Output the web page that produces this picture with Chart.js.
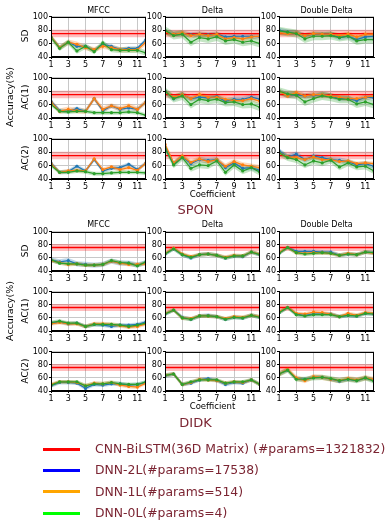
<!DOCTYPE html>
<html><head><meta charset="utf-8">
<script src="https://cdn.jsdelivr.net/npm/chart.js@4.4.1/dist/chart.umd.min.js"></script>
<style>
html,body{margin:0;padding:0;background:#fff;}
body{width:388px;height:523px;position:relative;overflow:hidden;font-family:"DejaVu Sans",sans-serif;}
canvas{position:absolute;}
.t{position:absolute;white-space:nowrap;color:#000;line-height:1;}
.rot{transform:translate(-50%,-50%) rotate(-90deg);}
.ctr{transform:translate(-50%,-50%);}
.lg{position:absolute;height:3px;width:37px;left:43px;}
.lt{position:absolute;left:95px;font-size:12.4px;color:#7b2432;white-space:nowrap;transform:translateY(-50%);line-height:1;}
</style></head><body>
<script>
// ---------- DATA ----------
const coeffs = [1,2,3,4,5,6,7,8,9,10,11,12];
const xTicks = [1,3,5,7,9,11];
const yTicks = [40,60,80,100];
const groups = ['SPON','DIDK'];
const features = ['MFCC','Delta','Double Delta'];
const metrics = ['SD','AC(1)','AC(2)'];
const seriesNames = ['CNN-BiLSTM(36D Matrix) (#params=1321832)','DNN-2L(#params=17538)','DNN-1L(#params=514)','DNN-0L(#params=4)'];
const cnnMean = {SPON:75, DIDK:76};
const cnnStd = {SPON:5.5, DIDK:5.5};

// SPON
const SPON_MFCC_SD_2L  = [70,54,62,56,56,50,59,56,51,53,53,66];
const SPON_MFCC_SD_1L  = [70,54,62,59,54,51,56,54,51,51,51,62];
const SPON_MFCC_SD_0L  = [69,53,62,49,56,48,61,51,50,50,50,46];
const SPON_DELTA_SD_2L = [78,74,75,73,74,73,74,70,71,71,71,70];
const SPON_DELTA_SD_1L = [77,74,76,72,74,72,74,67,69,67,70,71];
const SPON_DELTA_SD_0L = [80,72,74,62,69,67,70,64,66,62,64,60];
const SPON_DD_SD_2L    = [80,77,76,72,74,74,74,69,71,66,70,71];
const SPON_DD_SD_1L    = [76,75,76,72,75,74,74,72,74,70,74,74];
const SPON_DD_SD_0L    = [79,77,75,67,71,71,72,69,71,64,66,66];

const SPON_MFCC_AC1_2L  = [65,51,50,54,50,69,51,58,53,55,53,64];
const SPON_MFCC_AC1_1L  = [64,50,53,51,50,69,53,58,54,58,53,64];
const SPON_MFCC_AC1_0L  = [60,50,49,50,50,48,48,48,48,49,48,44];
const SPON_DELTA_AC1_2L = [80,69,75,69,71,70,72,65,68,68,71,68];
const SPON_DELTA_AC1_1L = [79,71,75,69,75,71,71,68,66,66,69,65];
const SPON_DELTA_AC1_0L = [80,69,73,60,68,66,68,63,64,60,61,56];
const SPON_DD_AC1_2L    = [80,74,75,73,74,75,73,69,69,66,71,70];
const SPON_DD_AC1_1L    = [80,73,78,73,75,75,73,71,69,69,71,73];
const SPON_DD_AC1_0L    = [80,76,74,64,69,73,71,68,68,61,64,60];

const SPON_MFCC_AC2_2L  = [64,50,51,59,52,69,52,56,57,62,54,64];
const SPON_MFCC_AC2_1L  = [63,50,52,53,52,70,54,58,54,57,53,64];
const SPON_MFCC_AC2_0L  = [60,50,50,52,51,48,48,49,50,50,50,49];
const SPON_DELTA_AC2_2L = [88,63,73,63,69,68,69,57,64,56,57,53];
const SPON_DELTA_AC2_1L = [92,64,74,65,70,66,69,59,66,61,59,57];
const SPON_DELTA_AC2_0L = [86,61,72,56,61,60,67,50,61,52,57,50];
const SPON_DD_AC2_2L    = [82,73,77,69,74,72,69,68,66,61,63,59];
const SPON_DD_AC2_1L    = [79,73,72,69,73,69,69,66,67,63,64,63];
const SPON_DD_AC2_0L    = [79,72,69,61,67,64,68,58,64,58,59,52];

// DIDK
const DIDK_MFCC_SD_2L  = [57,54,56,51,50,49,50,55,52,52,49,53];
const DIDK_MFCC_SD_1L  = [56,53,50,51,49,49,50,55,52,50,50,51];
const DIDK_MFCC_SD_0L  = [57,52,51,51,49,49,50,56,53,52,48,54];
const DIDK_DELTA_SD_2L = [66,74,65,60,65,66,64,60,63,62,69,65];
const DIDK_DELTA_SD_1L = [67,75,66,62,65,66,64,61,64,63,69,66];
const DIDK_DELTA_SD_0L = [66,74,65,61,65,66,64,60,63,63,69,65];
const DIDK_DD_SD_2L    = [67,76,70,70,70,69,69,64,66,65,69,68];
const DIDK_DD_SD_1L    = [68,76,68,67,68,68,67,64,67,65,69,67];
const DIDK_DD_SD_0L    = [67,76,68,66,67,68,67,64,66,65,69,68];

const DIDK_MFCC_AC1_2L  = [52,54,51,52,47,50,49,47,49,49,50,54];
const DIDK_MFCC_AC1_1L  = [51,53,51,51,47,51,51,50,48,46,47,51];
const DIDK_MFCC_AC1_0L  = [53,55,52,52,47,50,50,50,49,47,49,52];
const DIDK_DELTA_AC1_2L = [66,72,61,58,63,64,62,58,61,60,64,61];
const DIDK_DELTA_AC1_1L = [67,72,60,59,63,63,62,59,62,61,64,62];
const DIDK_DELTA_AC1_0L = [66,72,60,58,63,63,62,58,61,60,64,61];
const DIDK_DD_AC1_2L    = [68,76,66,64,66,66,66,62,64,63,67,66];
const DIDK_DD_AC1_1L    = [69,76,67,66,69,68,66,62,67,64,68,67];
const DIDK_DD_AC1_0L    = [68,76,65,63,65,65,65,62,64,63,67,66];

const DIDK_MFCC_AC2_2L  = [48,53,53,52,44,50,49,51,51,49,50,53];
const DIDK_MFCC_AC2_1L  = [50,54,54,53,48,52,51,53,49,47,46,52];
const DIDK_MFCC_AC2_0L  = [49,54,54,54,48,51,51,53,51,50,50,54];
const DIDK_DELTA_AC2_2L = [63,66,50,52,57,59,56,50,53,52,57,50];
const DIDK_DELTA_AC2_1L = [64,66,50,53,58,57,56,52,54,53,57,50];
const DIDK_DELTA_AC2_0L = [64,66,50,54,57,57,57,52,54,54,57,50];
const DIDK_DD_AC2_2L    = [66,72,59,58,61,61,58,55,58,56,60,56];
const DIDK_DD_AC2_1L    = [66,73,60,56,62,61,58,56,59,57,60,58];
const DIDK_DD_AC2_0L    = [66,72,58,58,60,61,59,56,58,56,60,55];

// shaded band half-widths per panel (row-major: SD, AC1, AC2 x MFCC, Delta, DD)
const SPON_BAND_2L = [3,4,4, 3,4,4, 3,4,4];
const SPON_BAND_1L = [4,4,4, 4,4,4, 3,4,3];
const SPON_BAND_0L = [4,6,6, 3,6,6, 3,5,5];
const DIDK_BAND_2L = [4,3,3, 3,3,3, 3,3,3];
const DIDK_BAND_1L = [3,3,3, 3,3,3, 3,3,4];
const DIDK_BAND_0L = [3,3,3, 3,3,3, 3,3,4];

// ---------- lookup built from arrays ----------
const table = {
  SPON: [
    [[SPON_MFCC_SD_2L,SPON_MFCC_SD_1L,SPON_MFCC_SD_0L],[SPON_DELTA_SD_2L,SPON_DELTA_SD_1L,SPON_DELTA_SD_0L],[SPON_DD_SD_2L,SPON_DD_SD_1L,SPON_DD_SD_0L]],
    [[SPON_MFCC_AC1_2L,SPON_MFCC_AC1_1L,SPON_MFCC_AC1_0L],[SPON_DELTA_AC1_2L,SPON_DELTA_AC1_1L,SPON_DELTA_AC1_0L],[SPON_DD_AC1_2L,SPON_DD_AC1_1L,SPON_DD_AC1_0L]],
    [[SPON_MFCC_AC2_2L,SPON_MFCC_AC2_1L,SPON_MFCC_AC2_0L],[SPON_DELTA_AC2_2L,SPON_DELTA_AC2_1L,SPON_DELTA_AC2_0L],[SPON_DD_AC2_2L,SPON_DD_AC2_1L,SPON_DD_AC2_0L]]
  ],
  DIDK: [
    [[DIDK_MFCC_SD_2L,DIDK_MFCC_SD_1L,DIDK_MFCC_SD_0L],[DIDK_DELTA_SD_2L,DIDK_DELTA_SD_1L,DIDK_DELTA_SD_0L],[DIDK_DD_SD_2L,DIDK_DD_SD_1L,DIDK_DD_SD_0L]],
    [[DIDK_MFCC_AC1_2L,DIDK_MFCC_AC1_1L,DIDK_MFCC_AC1_0L],[DIDK_DELTA_AC1_2L,DIDK_DELTA_AC1_1L,DIDK_DELTA_AC1_0L],[DIDK_DD_AC1_2L,DIDK_DD_AC1_1L,DIDK_DD_AC1_0L]],
    [[DIDK_MFCC_AC2_2L,DIDK_MFCC_AC2_1L,DIDK_MFCC_AC2_0L],[DIDK_DELTA_AC2_2L,DIDK_DELTA_AC2_1L,DIDK_DELTA_AC2_0L],[DIDK_DD_AC2_2L,DIDK_DD_AC2_1L,DIDK_DD_AC2_0L]]
  ]
};
const bands = {SPON:[SPON_BAND_2L,SPON_BAND_1L,SPON_BAND_0L], DIDK:[DIDK_BAND_2L,DIDK_BAND_1L,DIDK_BAND_0L]};

// ---------- STYLE / LAYOUT ----------
const FONT = '"DejaVu Sans", sans-serif';
const LINE_COLORS = ['#1f77b4','#ff7f0e','#2ca02c'];
const BAND_COLORS = ['rgba(31,119,180,0.28)','rgba(255,127,14,0.28)','rgba(44,160,44,0.28)'];
const RED = '#ff0000', RED_BAND = 'rgba(255,0,0,0.25)';
const COL_X = [51,165,279], PLOT_W = 95;
const ROW_Y = {SPON:[16,76.5,137.5], DIDK:[230.7,290.7,350.7]};
const PLOT_H = {SPON:40.5, DIDK:40};
const YW = 30, XH = 16, PT = 5, PR = 5;

const frame = {id:'frame', afterDatasetsDraw(ch){
  const a = ch.chartArea, ctx = ch.ctx;
  ctx.save(); ctx.strokeStyle='#000'; ctx.lineWidth=1;
  const l=Math.round(a.left)+0.5, t=Math.round(a.top)+0.5, r=Math.round(a.right)-0.5, b=Math.round(a.bottom)-0.5;
  ctx.strokeRect(l,t,r-l,b-t); ctx.restore();
}};

function pts(vals){ return coeffs.map((c,i)=>({x:c,y:vals[i]})); }
function pts2(v){ return [{x:coeffs[0],y:v},{x:coeffs[coeffs.length-1],y:v}]; }

function addText(txt, x, y, size, cls, color){
  const d=document.createElement('div'); d.className='t '+cls; d.textContent=txt;
  d.style.left=x+'px'; d.style.top=y+'px'; d.style.fontSize=size+'px'; if(color) d.style.color=color;
  document.body.appendChild(d);
}

groups.forEach(g=>{
  metrics.forEach((m,r)=>{
    features.forEach((f,c)=>{
      const series = table[g][r][c];
      const pi = r*3+c;
      const h = PLOT_H[g];
      const cv = document.createElement('canvas');
      const W = PLOT_W + YW + PR, H = h + PT + XH;
      cv.width = Math.round(W); cv.height = Math.round(H);
      cv.style.left = (COL_X[c]-YW)+'px'; cv.style.top = (ROW_Y[g][r]-PT)+'px';
      document.body.appendChild(cv);
      const ds = [];
      const bandOrder=[12,11,10];
      ds.push({data:pts2(cnnMean[g]+cnnStd[g]), fill:'+1', backgroundColor:RED_BAND, borderWidth:0, pointRadius:0, order:13});
      ds.push({data:pts2(cnnMean[g]-cnnStd[g]), fill:false, borderWidth:0, pointRadius:0, order:13});
      series.forEach((vals,k)=>{
        const bw = bands[g][k][pi];
        ds.push({data:pts(vals.map(v=>v+bw)), fill:'+1', backgroundColor:BAND_COLORS[k], borderWidth:0, pointRadius:0, order:bandOrder[k]});
        ds.push({data:pts(vals.map(v=>v-bw)), fill:false, borderWidth:0, pointRadius:0, order:bandOrder[k]});
      });
      ds.push({label:seriesNames[0], data:pts2(cnnMean[g]), borderColor:RED, borderWidth:1.3, pointRadius:0, fill:false, order:3});
      series.forEach((vals,k)=>{
        ds.push({label:seriesNames[k+1], data:pts(vals), borderColor:LINE_COLORS[k], backgroundColor:LINE_COLORS[k],
          borderWidth:1.2, pointRadius:1.6, pointBorderWidth:0, pointBackgroundColor:LINE_COLORS[k], fill:false, order:2-k});
      });
      const tickFont = {size:8, family:FONT};
      const grid = {color:'#c8c8c8', lineWidth:1, tickLength:2, tickColor:'#000', drawTicks:true};
      new Chart(cv, {type:'line', data:{datasets:ds}, options:{
        responsive:false, animation:false, devicePixelRatio:1,
        layout:{padding:{left:0, top:PT, right:PR, bottom:0}},
        plugins:{legend:{display:false}, tooltip:{enabled:false}, title:{display:false}},
        elements:{line:{tension:0}},
        scales:{
          x:{type:'linear', min:1, max:12,
             afterBuildTicks:s=>{s.ticks = xTicks.map(v=>({value:v}));},
             afterFit:s=>{s.height = XH;},
             ticks:{font:tickFont, color:'#000', padding:1, maxRotation:0, autoSkip:false},
             grid:grid, border:{display:true, color:'#000', width:1}},
          y:{type:'linear', min:40, max:100,
             afterBuildTicks:s=>{s.ticks = yTicks.map(v=>({value:v}));},
             afterFit:s=>{s.width = YW;},
             ticks:{font:tickFont, color:'#000', padding:1},
             grid:grid, border:{display:true, color:'#000', width:1}}
        }
      }, plugins:[frame]});
    });
  });
  // titles
  const top = ROW_Y[g][0];
  features.forEach((f,c)=> addText(f, COL_X[c]+PLOT_W/2, top-5.5, 8, 'ctr'));
  metrics.forEach((m,r)=> addText(m, 25, ROW_Y[g][r]+PLOT_H[g]/2, 9, 'rot'));
  addText('Accuracy(%)', 10, ROW_Y[g][1]+PLOT_H[g]/2, 9.5, 'rot');
  addText('Coefficient', COL_X[1]+PLOT_W/2, ROW_Y[g][2]+PLOT_H[g]+15.5, 8.5, 'ctr');
  addText(g, COL_X[1]+PLOT_W/2 - 17, ROW_Y[g][2]+PLOT_H[g]+31, 13, 'ctr', '#7b2432');
});

// legend
const legendColors = ['#ff0000','#0000ff','#ffa500','#00ff00'];
const legendY = [449,470,491.5,513];
seriesNames.forEach((n,i)=>{
  const l=document.createElement('div'); l.className='lg'; l.style.background=legendColors[i]; l.style.top=(legendY[i]-1.5)+'px';
  document.body.appendChild(l);
  const t=document.createElement('div'); t.className='lt'; t.textContent=n; t.style.top=legendY[i]+'px';
  document.body.appendChild(t);
});
</script>
</body></html>
